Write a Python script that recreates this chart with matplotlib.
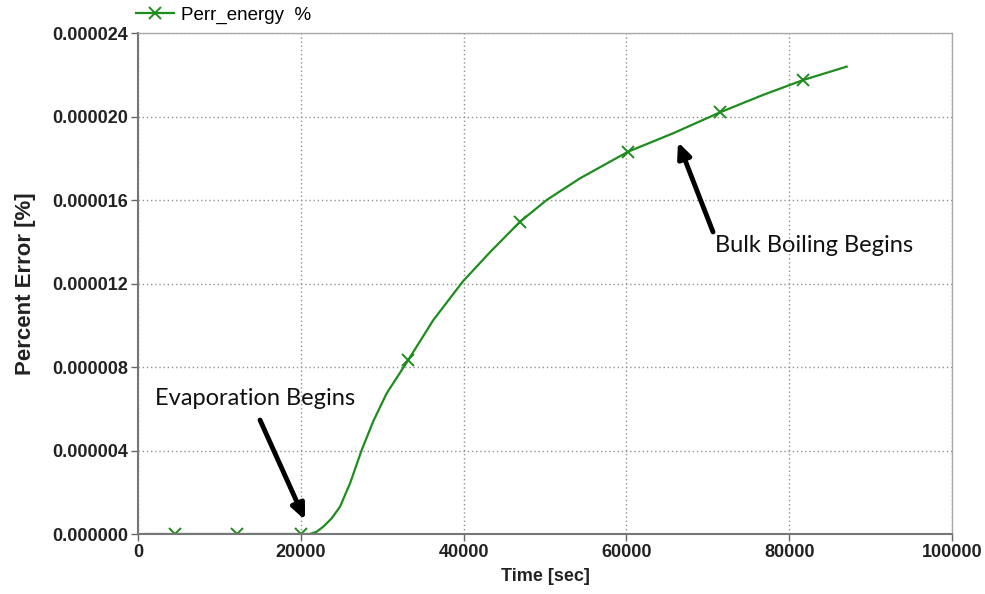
import matplotlib
matplotlib.use('Agg')
import matplotlib.pyplot as plt
import matplotlib.ticker as ticker

# data (time in sec, error in %)
time_sec = [800, 4500, 12200, 20000, 21100, 21950, 22760, 23790, 24820,
            26050, 27480, 28900, 30550, 33210, 36280, 39890, 43240, 46930,
            50200, 54300, 60230, 65760, 71500, 76820, 81730, 87060]
perr = [0, 0, 0, 0, 0, 0.11e-6, 0.35e-6, 0.75e-6, 1.31e-6,
        2.43e-6, 4.02e-6, 5.40e-6, 6.74e-6, 8.34e-6, 10.25e-6, 12.09e-6,
        13.5e-6, 14.96e-6, 16.0e-6, 17.04e-6, 18.32e-6, 19.2e-6, 20.2e-6,
        21.04e-6, 21.75e-6, 22.39e-6]
marker_idx = [1, 2, 3, 13, 17, 20, 22, 24]

xticks = [0, 20000, 40000, 60000, 80000, 100000]
yticks = [0, 4e-6, 8e-6, 12e-6, 16e-6, 20e-6, 24e-6]

green = '#1e8c1e'
fig = plt.figure(figsize=(9.85, 5.94), dpi=100)
ax = fig.add_axes([0.1401, 0.101, 0.8264, 0.8434])

ax.plot(time_sec, perr, color=green, lw=1.6, marker='x', markersize=8,
        markeredgewidth=1.4, markevery=marker_idx, label='Perr_energy  %')

ax.set_xlim(0, 100000)
ax.set_ylim(0, 24e-6)
ax.set_xticks(xticks)
ax.set_yticks(yticks)
ax.yaxis.set_major_formatter(ticker.FormatStrFormatter('%.6f'))
ax.xaxis.set_major_formatter(ticker.FormatStrFormatter('%d'))
ax.grid(True, color='#909090', linestyle=(0, (1, 2)), linewidth=1.0)

for lab in ax.get_xticklabels() + ax.get_yticklabels():
    lab.set_fontfamily('Liberation Sans')
    lab.set_fontweight('bold')
    lab.set_fontsize(13)
    lab.set_color('#222222')
ax.tick_params(axis='both', direction='out', length=5, width=1, color='#666666', pad=2)

for side in ['left', 'bottom']:
    ax.spines[side].set_color('#777777')
    ax.spines[side].set_linewidth(1.5)
for side in ['top', 'right']:
    ax.spines[side].set_color('#aaaaaa')
    ax.spines[side].set_linewidth(1.0)

ax.set_xlabel('Time [sec]', fontfamily='Liberation Sans', fontweight='bold',
              fontsize=13, color='#222222', labelpad=5)
ax.set_ylabel('Percent Error [%]', fontfamily='Liberation Sans', fontweight='bold',
              fontsize=16, color='#222222', labelpad=12)

ax.legend(loc='lower left', bbox_to_anchor=(-0.002, 1.018), frameon=False,
          prop={'family': 'Liberation Sans', 'size': 13.5}, handlelength=2.0,
          handletextpad=0.4, borderaxespad=0.0, borderpad=0.0)

# annotations
ax.annotate('', xy=(20520, 0.67e-6), xytext=(14990, 5.46e-6),
            arrowprops=dict(arrowstyle='-|>,head_length=0.9,head_width=0.4',
                            color='black', lw=3.5, shrinkA=0, shrinkB=0))
ax.text(2090, 6.5e-6, 'Evaporation Begins', fontfamily='Lato', fontsize=17,
        color='#111111', va='center', ha='left')
ax.annotate('', xy=(66340, 18.78e-6), xytext=(70640, 14.47e-6),
            arrowprops=dict(arrowstyle='-|>,head_length=0.9,head_width=0.4',
                            color='black', lw=3.5, shrinkA=0, shrinkB=0))
ax.text(70880, 13.8e-6, 'Bulk Boiling Begins', fontfamily='Lato', fontsize=17,
        color='#111111', va='center', ha='left')

fig.savefig('out.png', dpi=100)
